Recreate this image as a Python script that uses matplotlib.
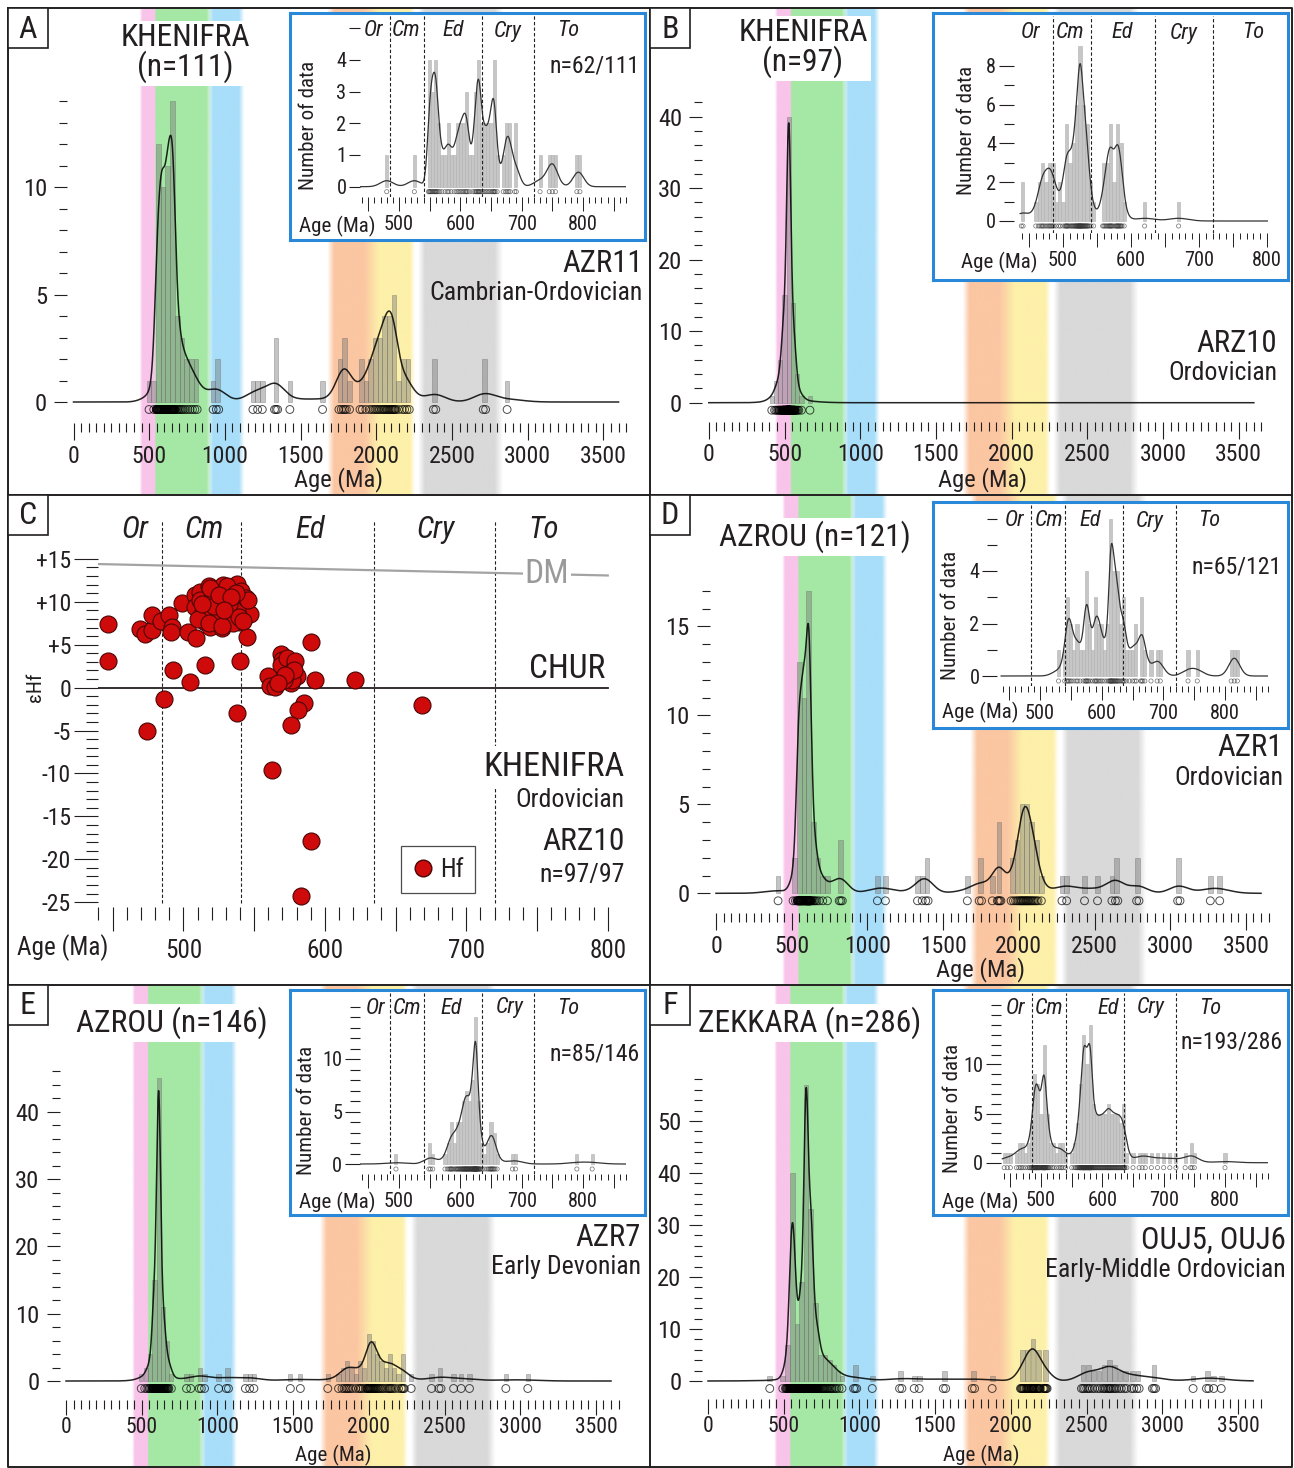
import os

import numpy as np
import matplotlib.pyplot as plt
from matplotlib import font_manager as fm
from matplotlib.colors import to_rgb
from matplotlib.font_manager import FontProperties
from matplotlib.lines import Line2D
from matplotlib.patches import Rectangle
from matplotlib.textpath import TextPath

INK = "#231f20"
BLUE = "#2a88d8"
W, H = 1294, 1468
MA_PX = 0.1514  # pixels per Ma in the main plots

# ---------------- data ----------------
# background age bands (Ma) and colours
BAND_LO = [445, 541, 905, 1700, 1960, 2300]
BAND_HI = [541, 895, 1110, 1980, 2240, 2810]
BAND_FADE_L = [18, 0, 30, 45, 80, 45]
BAND_FADE_R = [0, 30, 35, 80, 35, 55]
BAND_COLORS = ["#f9c4ea", "#a5e8a5", "#a8def9", "#fbc6a2", "#fdf0a9", "#d9d9d9"]

BOUNDS = [485, 541, 635, 720]
PERIODS = ["Or", "Cm", "Ed", "Cry", "To"]

# A - KHENIFRA AZR11
A_CENTERS = [499, 530, 561, 592, 623, 654, 685, 716, 747, 778, 809, 922, 951, 1185, 1216, 1247,
             1338, 1429, 1645, 1761, 1792, 1823, 1900, 1931, 1962, 1993, 2024, 2055, 2086, 2117,
             2148, 2179, 2210, 2385, 2714, 2864]
A_COUNTS = [1, 1, 12, 10, 11, 14, 4, 3, 2, 2, 2, 1, 2, 1, 1, 1, 3, 1, 1, 2, 3, 1, 2, 1, 2, 3, 3,
            4, 4, 5, 1, 2, 2, 2, 2, 1]
A_IN_CENTERS = [480, 525, 550, 555, 560, 565, 570, 575, 580, 585, 590, 595, 600, 605, 610, 615,
                620, 625, 630, 635, 640, 645, 650, 655, 660, 670, 675, 680, 690, 730, 745, 750,
                755, 790, 795]
A_IN_COUNTS = [1, 1, 4, 3, 4, 2, 1, 1, 2, 1, 1, 2, 2, 2, 3, 1, 1, 3, 4, 2, 2, 2, 2, 4, 1, 1, 2,
               2, 2, 1, 1, 1, 1, 1, 1]

# B - KHENIFRA ARZ10
B_CENTERS = [416, 444, 472, 500, 528, 556, 584, 612, 668]
B_COUNTS = [1, 3, 6, 15, 40, 14, 4, 1, 1]
B_IN_CENTERS = [440, 460, 465, 470, 475, 480, 485, 490, 495, 500, 505, 510, 515, 520, 525, 530,
                535, 540, 545, 560, 565, 570, 575, 580, 585, 590, 620, 670]
B_IN_COUNTS = [2, 1, 2, 3, 2, 3, 3, 1, 2, 1, 5, 3, 4, 6, 9, 6, 5, 2, 1, 3, 3, 5, 2, 5, 4, 1, 1, 1]

# C - epsilon Hf, ARZ10
C_AGE = [447, 447, 469, 473, 478, 478, 474, 484, 490, 492, 491, 486, 493, 499, 503, 505, 509,
         508, 508, 512, 514, 515, 515, 518, 517, 519, 521, 523, 525, 527, 529, 531, 533, 535,
         538, 539, 540, 543, 543, 547, 545, 540, 538,
         512, 516, 520, 524, 526, 530, 533, 536, 538, 541, 544, 510, 518, 522, 528, 532, 535,
         539, 542, 546, 527, 513, 519, 531, 537, 525, 534, 529,
         560, 561, 565, 569, 570, 569, 573, 574, 576, 577, 579, 580, 577, 571, 590, 593, 621,
         585, 581, 576, 563, 590, 583, 669, 578, 572, 567]
C_EHF = [7.4, 3.1, 6.8, 6.2, 6.7, 8.5, -5.0, 7.8, 8.5, 7.1, 6.5, -1.3, 2.1, 9.9, 6.5, 0.7, 5.8,
         10.8, 9.4, 11.2, 8.8, 7.7, 2.6, 11.9, 10.1, 7.1, 8.3, 11.2, 9.6, 6.9, 8.8, 7.8, 11.2,
         9.2, 12.1, 10.8, 7.7, 9.8, 9.0, 8.6, 5.9, 3.1, -3.0,
         10.2, 9.0, 10.5, 8.0, 11.4, 10.4, 8.3, 10.0, 9.0, 11.3, 10.5, 8.0, 7.5, 9.5, 12.0, 9.7,
         7.5, 8.2, 7.8, 10.2, 7.2, 9.8, 11.6, 11.8, 11.0, 10.8, 10.6, 9.0,
         1.3, 0.2, 0.1, 3.9, 3.2, 2.6, 3.4, 0.9, 0.5, 1.9, 3.1, 1.3, 0.9, 0.9, 5.3, 0.9, 0.9,
         -1.8, -2.6, -4.4, -9.6, -17.9, -24.3, -2.0, 2.0, 1.5, 0.5]
DM_AGE = [440, 800]
DM_EHF = [14.4, 13.07]
CHUR_AGE = [440, 800]
CHUR_EHF = [0, 0]

# D - AZROU AZR1
D_CENTERS = [410, 517, 550, 581, 612, 643, 674, 705, 736, 824, 1066, 1119, 1331, 1362, 1393,
             1660, 1746, 1825, 1870, 1957, 1989, 2021, 2053, 2085, 2117, 2149, 2285, 2316, 2434,
             2520, 2615, 2646, 2786, 3057, 3265, 3327]
D_COUNTS = [1, 2, 13, 11, 17, 4, 2, 1, 1, 3, 1, 1, 1, 1, 2, 1, 2, 1, 4, 2, 3, 5, 5, 4, 3, 1, 1,
            1, 1, 1, 1, 2, 2, 2, 1, 1]
D_IN_CENTERS = [530, 540, 545, 550, 555, 560, 565, 570, 575, 580, 585, 590, 595, 600, 605, 610,
                615, 620, 625, 630, 635, 640, 645, 650, 655, 665, 670, 680, 690, 695, 740, 755,
                810, 815, 820]
D_IN_COUNTS = [1, 1, 3, 2, 1, 2, 1, 1, 4, 2, 1, 3, 2, 2, 1, 2, 6, 4, 4, 2, 3, 1, 1, 1, 2, 3, 1,
               1, 1, 1, 1, 1, 1, 1, 1]

# E - AZROU AZR7
E_CENTERS = [497, 527, 557, 585, 612, 640, 668, 696, 796, 824, 887, 915, 1008, 1066, 1185, 1213,
             1241, 1482, 1548, 1729, 1800, 1830, 1858, 1886, 1914, 1942, 1970, 2000, 2028, 2056,
             2084, 2112, 2140, 2168, 2196, 2224, 2280, 2414, 2470, 2560, 2610, 2665, 2905, 3050]
E_COUNTS = [1, 2, 4, 15, 45, 11, 6, 1, 1, 1, 2, 1, 1, 2, 1, 1, 1, 1, 1, 1, 1, 2, 3, 2, 1, 3, 2,
            7, 6, 4, 3, 2, 4, 2, 1, 4, 1, 1, 2, 1, 1, 1, 1, 1]
E_IN_CENTERS = [495, 550, 555, 575, 580, 585, 590, 595, 600, 605, 610, 615, 620, 625, 630, 635,
                640, 645, 650, 655, 660, 685, 690, 790, 815]
E_IN_COUNTS = [1, 2, 1, 1, 2, 4, 2, 4, 4, 6, 7, 6, 8, 14, 6, 2, 1, 2, 4, 3, 1, 1, 1, 1, 1]

# F - ZEKKARA OUJ5, OUJ6
F_CENTERS = [408, 494, 525, 557, 588, 618, 648, 679, 712, 743, 772, 802, 831, 858, 885, 972,
             1085, 1273, 1362, 1395, 1562, 1753, 1877, 2077, 2112, 2147, 2182, 2227, 2477, 2512,
             2547, 2582, 2617, 2652, 2687, 2722, 2757, 2805, 2840, 2946, 3204, 3300, 3340, 3390]
F_COUNTS = [1, 1, 7, 40, 11, 19, 57, 33, 15, 5, 5, 4, 3, 2, 1, 3, 1, 2, 1, 1, 2, 2, 1, 6, 6, 8,
            6, 6, 3, 3, 2, 2, 3, 4, 3, 2, 2, 2, 2, 3, 1, 2, 1, 1]
F_IN_CENTERS = [440, 445, 450, 460, 465, 470, 475, 480, 485, 490, 495, 500, 505, 510, 515, 520,
                525, 530, 535, 540, 550, 555, 560, 565, 570, 575, 580, 585, 590, 595, 600, 605,
                610, 615, 620, 625, 630, 635, 640, 650, 660, 665, 670, 680, 690, 700, 710, 720,
                735, 745, 750, 800]
F_IN_COUNTS = [1, 1, 1, 1, 2, 2, 1, 2, 4, 9, 8, 5, 12, 5, 2, 2, 1, 2, 2, 1, 1, 2, 4, 8, 13, 10,
               14, 6, 5, 5, 5, 5, 6, 5, 5, 5, 4, 6, 1, 1, 1, 1, 1, 1, 1, 1, 1, 1, 1, 2, 1, 1]


# ---------------- font: a narrow sans if one is installed ----------------
def pick_font():
    prefs = ["liberationsansnarrow-regular.ttf", "robotocondensed-regular.ttf",
             "notosans-condensed.ttf", "opensans_condensed-regular.ttf",
             "dejavusanscondensed.ttf", "notosans-semicondensed.ttf",
             "liberationsans-regular.ttf"]
    by_file = {os.path.basename(f.fname).lower(): f for f in fm.fontManager.ttflist}
    for p in prefs:
        if p in by_file:
            return by_file[p].name, by_file[p].stretch
    return "DejaVu Sans", "normal"


FONT, STRETCH = pick_font()
plt.rcParams["font.family"] = [FONT, "DejaVu Sans"]
plt.rcParams["font.stretch"] = STRETCH
plt.rcParams["text.color"] = INK
plt.rcParams["xtick.color"] = INK
plt.rcParams["ytick.color"] = INK

# scale sizes so that text widths follow the narrow lettering of the reference
_probe = TextPath((0, 0), "KHENIFRA", size=100,
                  prop=FontProperties(family=FONT, stretch=STRETCH)).get_extents().width
SCALE = float(np.clip(405.0 / _probe, 0.72, 1.1))


def fs(size):
    return size * SCALE


# ---------------- helpers ----------------
fig = plt.figure(figsize=(W / 100, H / 100), dpi=100)


def px_axes(x0, y0, x1, y1, z=1):
    ax = fig.add_axes([x0 / W, 1 - y1 / H, (x1 - x0) / W, (y1 - y0) / H])
    ax.set_zorder(z)
    ax.patch.set_visible(False)
    return ax


def px_text(x, y, s, **kw):
    kw.setdefault("zorder", 10)
    return fig.text(x / W, 1 - y / H, s, **kw)


def hide_spines(ax):
    for sp in ax.spines.values():
        sp.set_visible(False)


def kde(grid, centers, counts, width, bw):
    """Adaptive gaussian density (count units) from binned ages."""
    c = np.asarray(centers, float)
    n = np.asarray(counts, float)

    def dens(x, s):
        z = (x[:, None] - c) / s
        return (n * width / (np.sqrt(2 * np.pi) * s) * np.exp(-0.5 * z ** 2)).sum(axis=1)

    pilot = dens(c, np.full(c.size, bw))
    g = np.exp(np.sum(n * np.log(pilot)) / n.sum())
    s = np.clip(bw * (pilot / g) ** -0.5, 0.45 * width, None)
    return dens(grid, s)


def spread(centers, counts, width):
    ages = []
    for c, n in zip(centers, counts):
        ages.extend(c - width / 2 + (np.arange(n) + 0.5) * width / n)
    return np.array(ages)


def band_rgba(ages):
    rgb = np.zeros((ages.size, 3))
    tot = np.zeros(ages.size)
    for lo, hi, fl, fr, col in zip(BAND_LO, BAND_HI, BAND_FADE_L, BAND_FADE_R, BAND_COLORS):
        xp = [lo - fl / 2 - 1e-3, lo + fl / 2, hi - fr / 2, hi + fr / 2 + 1e-3]
        w = np.interp(ages, xp, [0, 1, 1, 0], left=0, right=0)
        rgb += w[:, None] * np.array(to_rgb(col))
        tot += w
    out = np.ones((1, ages.size, 4))
    nz = tot > 0
    out[0, nz, :3] = rgb[nz] / tot[nz, None]
    out[0, :, 3] = np.clip(tot, 0, 1)
    return out


def main_panel(box, zero_x, base_y, unit, ruler_y, top_y, ymaj, ymin, ymax,
               centers, counts, width, bw, age_lab, compact=False):
    x0, y0, x1, y1 = box
    bg = px_axes(x0 + 1, y0 + 1, x1 - 1, y1 - 1, z=0)
    lo, hi = (x0 + 1 - zero_x) / MA_PX, (x1 - 1 - zero_x) / MA_PX
    bg.imshow(band_rgba(np.linspace(lo, hi, 1500)), extent=(lo, hi, 0, 1),
              aspect="auto", interpolation="bilinear")
    bg.set_xlim(lo, hi)
    bg.set_ylim(0, 1)
    bg.set_axis_off()

    ax = px_axes(zero_x - 6.5, top_y, zero_x + 3680 * MA_PX, ruler_y, z=1)
    hide_spines(ax)
    ax.set_xlim(-6.5 / MA_PX, 3680)
    ax.set_ylim(-(ruler_y - base_y) / unit, (base_y - top_y) / unit)

    ax.bar(centers, counts, width=width, color=(0.45, 0.45, 0.45, 0.42),
           edgecolor=(0.4, 0.4, 0.4, 0.5), linewidth=0.5)
    grid = np.linspace(0, 3600, 2400)
    ax.plot(grid, kde(grid, centers, counts, width, bw), color=(0, 0, 0, 0.85), lw=1.1)
    ages = spread(centers, counts, width)
    ax.scatter(ages, np.full(ages.size, -7.5 / unit), s=32, facecolors="none",
               edgecolors=(0, 0, 0, 0.7), linewidths=0.7, clip_on=False)

    # bottom panels have less room under the ruler
    tick_len, lab, pad, age_fs = (11, fs(15.5), 1.5, fs(15)) if compact else \
        (12.5, fs(17), 3, fs(17.5))
    ax.set_xticks(np.arange(0, 3501, 500))
    ax.set_xticks(np.arange(0, 3651, 50), minor=True)
    ax.tick_params(axis="x", which="major", direction="out", length=tick_len, width=0.8,
                   pad=pad, labelsize=lab)
    ax.tick_params(axis="x", which="minor", direction="out", length=6.5, width=0.8)
    ax.set_yticks(np.arange(0, ymax + 0.01, ymaj))
    ax.set_yticks(np.arange(0, ymax + 0.01, ymin), minor=True)
    ax.tick_params(axis="y", which="major", direction="out", length=9.5, width=0.8,
                   pad=5, labelsize=fs(17.5))
    ax.tick_params(axis="y", which="minor", direction="out", length=6, width=0.8)
    px_text(age_lab[0], age_lab[1], "Age (Ma)", ha="center", va="center", fontsize=age_fs)
    return ax


def inset(box, x500, k, xlo, xhi, base_y, unit, ruler_y, top_y, ymaj, ylabels, yminor,
          maj_len, centers, counts, bw, period_x, period_y, ylab_xy, age_xy, nlabel=None):
    bx = px_axes(*box, z=2)
    bx.patch.set_visible(True)
    bx.set_facecolor("white")
    bx.set_xticks([])
    bx.set_yticks([])
    for sp in bx.spines.values():
        sp.set_color(BLUE)
        sp.set_linewidth(2.2)

    left = x500 + (xlo - 500) * k
    right = x500 + (xhi - 500) * k
    ax = px_axes(left, top_y, right, ruler_y, z=3)
    hide_spines(ax)
    ax.set_xlim(xlo, xhi)
    ylo = -(ruler_y - base_y) / unit
    yhi = (base_y - top_y) / unit
    ax.set_ylim(ylo, yhi)

    width = 5
    ax.bar(centers, counts, width=width, color="#c6c6c6", edgecolor="#b0b0b0", linewidth=0.4)
    grid = np.linspace(max(xlo, 437), xhi, 1200)
    ax.plot(grid, kde(grid, centers, counts, width, bw), color="#333333", lw=0.9)
    ages = spread(centers, counts, width)
    ax.scatter(ages, np.full(ages.size, -5.0 / unit), s=9, facecolors="none",
               edgecolors=(0.2, 0.2, 0.2, 0.7), linewidths=0.5, clip_on=False)
    ax.vlines(BOUNDS, ylo, yhi, colors=INK, linestyles=(0, (3, 2)), lw=0.8)
    for name, xp in zip(PERIODS, period_x):
        ax.text(xp, (base_y - period_y) / unit, name, style="italic", ha="center",
                va="center", fontsize=fs(16), clip_on=False)

    xt = np.arange(450, xhi + 0.1, 50)
    ax.set_xticks(xt)
    ax.set_xticklabels([str(int(v)) if v % 100 == 0 else "" for v in xt])
    ax.set_xticks(np.arange(440, xhi + 0.1, 10), minor=True)
    ax.tick_params(axis="x", which="major", direction="out", length=10, width=0.7,
                   pad=3, labelsize=fs(14.5))
    ax.tick_params(axis="x", which="minor", direction="out", length=4.5, width=0.7)
    ax.set_yticks(ymaj)
    ax.set_yticklabels(ylabels)
    ax.set_yticks(yminor, minor=True)
    ax.tick_params(axis="y", which="major", direction="out", length=maj_len, width=0.8,
                   pad=2, labelsize=fs(14.5))
    ax.tick_params(axis="y", which="minor", direction="out", length=7, width=0.8)
    px_text(ylab_xy[0], ylab_xy[1], "Number of data", rotation=90, ha="center", va="center",
            fontsize=fs(15))
    px_text(age_xy[0], age_xy[1], "Age (Ma)", ha="left", va="center", fontsize=fs(15))
    if nlabel:
        px_text(nlabel[1], nlabel[2], nlabel[0], ha="right", va="center", fontsize=fs(17))
    return ax


def title(x, y, s):
    px_text(x, y, s, ha="center", va="center", fontsize=fs(22.5), linespacing=0.95,
            bbox=dict(facecolor="white", edgecolor="none", pad=2))


def right_labels(x, y, big, small):
    px_text(x, y, big, ha="right", va="center", fontsize=fs(22))
    px_text(x, y + 30, small, ha="right", va="center", fontsize=fs(18.5))


# ---------------- panel A ----------------
main_panel((8, 8, 650, 495), 73.5, 402, 21.5, 423, 95, 5, 1, 14,
           A_CENTERS, A_COUNTS, 31, 32, (338, 480))
inset((290, 13, 645, 240), 399, 0.6133, 437, 870, 186.7, 31.7, 196.7, 15,
      [0, 1, 2, 3, 4, 5], ["0", "1", "2", "3", "4", ""], [], 8,
      A_IN_CENTERS, A_IN_COUNTS, 5, [458, 512, 589, 678, 775], 31,
      (308, 125), (299, 226), ("n=62/111", 640, 66))
title(185, 53, "KHENIFRA\n(n=111)")
right_labels(643, 263, "AZR11", "Cambrian-Ordovician")

# ---------------- panel B ----------------
main_panel((650, 8, 1292, 495), 708.8, 402.7, 7.15, 421.7, 88, 10, 2, 42,
           B_CENTERS, B_COUNTS, 28, 18, (982, 480))
inset((933, 13, 1288, 280), 1063, 0.68, 428, 802, 221, 19.4, 233.3, 16,
      [0, 2, 4, 6, 8], ["0", "2", "4", "6", "8"], np.arange(0, 9), 11,
      B_IN_CENTERS, B_IN_COUNTS, 5, [452, 511, 587, 678, 779], 33,
      (967, 130), (961, 262))
title(803, 48, "KHENIFRA\n(n=97)")
right_labels(1277, 343, "ARZ10", "Ordovician")

# ---------------- panel C ----------------
cax = px_axes(97.5, 516, 629, 907, z=1)
hide_spines(cax)
cax.set_xlim(439.3, 815)
cax.set_ylim(-25.56, 20.0)
cax.vlines(BOUNDS, -25.1, 19.5, colors=INK, linestyles=(0, (3, 2)), lw=0.8)
cax.plot(DM_AGE, DM_EHF, color="#a3a3a3", lw=1.6)
cax.plot(CHUR_AGE, CHUR_EHF, color=INK, lw=1.3)
cax.text(757, 13.2, "DM", color="#9a9a9a", fontsize=fs(24), ha="center", va="center",
         bbox=dict(facecolor="white", edgecolor="none", pad=1))
cax.text(798, 0.35, "CHUR", fontsize=fs(24), ha="right", va="bottom")
cax.scatter(C_AGE, C_EHF, s=150, facecolor="#cf0a0a", edgecolor="#4a0606", linewidths=0.8,
            zorder=4)
for name, xp in zip(PERIODS, [465.7, 514.7, 589.7, 678, 754.5]):
    cax.text(xp, 18.4, name, style="italic", fontsize=fs(22), ha="center", va="center")
cax.set_yticks(np.arange(-25, 16, 5))
cax.set_yticklabels(["-25", "-20", "-15", "-10", "-5", "0", "+5", "+10", "+15"])
cax.set_yticks(np.arange(-25, 16, 1), minor=True)
cax.tick_params(axis="y", which="major", direction="out", length=17, width=0.8, pad=2,
                labelsize=fs(17))
cax.tick_params(axis="y", which="minor", direction="out", length=9, width=0.8)
xt = np.arange(450, 801, 50)
cax.set_xticks(xt)
cax.set_xticklabels([str(int(v)) if v % 100 == 0 else "" for v in xt])
cax.set_xticks(np.arange(440, 801, 10), minor=True)
cax.tick_params(axis="x", which="major", direction="out", length=17, width=0.8, pad=6,
                labelsize=fs(18))
cax.tick_params(axis="x", which="minor", direction="out", length=9, width=0.8)
hf = Line2D([], [], marker="o", ls="none", ms=12, mfc="#cf0a0a", mec="#4a0606")
leg = cax.legend([hf], ["Hf"], loc="center", bbox_to_anchor=(0.641, 0.0954), fancybox=False,
                 fontsize=fs(18), handlelength=0.8, handletextpad=0.3, borderpad=0.45)
leg.get_frame().set_edgecolor(INK)
leg.get_frame().set_linewidth(0.9)
px_text(63, 948, "Age (Ma)", ha="center", va="center", fontsize=fs(18))
px_text(35, 687, "εHf", rotation=90, ha="center", va="center", fontsize=fs(15))
px_text(624.5, 767, "KHENIFRA", ha="right", va="center", fontsize=fs(24.5),
        bbox=dict(facecolor="white", edgecolor="none", pad=4))
px_text(624.5, 800, "Ordovician", ha="right", va="center", fontsize=fs(18.5))
px_text(624.5, 842, "ARZ10", ha="right", va="center", fontsize=fs(22.5))
px_text(624.5, 875, "n=97/97", ha="right", va="center", fontsize=fs(18.5))

# ---------------- panel D ----------------
main_panel((650, 495, 1292, 985), 716, 893.3, 17.8, 913, 573, 5, 1, 17,
           D_CENTERS, D_COUNTS, 31, 30, (981, 970))
inset((933, 502, 1288, 728), 1040, 0.6167, 431, 870, 676, 26.25, 685.7, 505,
      [0, 2, 4], ["0", "2", "4"], np.arange(0, 7), 11,
      D_IN_CENTERS, D_IN_COUNTS, 5, [458, 514, 582, 678, 775], 521,
      (950, 615), (942, 712), ("n=65/121", 1282, 567))
title(815, 537, "AZROU (n=121)")
right_labels(1283, 748, "AZR1", "Ordovician")

# ---------------- panel E ----------------
main_panel((8, 985, 650, 1467), 66, 1381, 6.73, 1399.7, 1058, 10, 2, 46,
           E_CENTERS, E_COUNTS, 28, 26, (333, 1455), compact=True)
inset((290, 990, 645, 1215), 399, 0.6133, 437, 870, 1164, 10.5, 1174.3, 993,
      [0, 5, 10], ["0", "5", "10"], np.arange(0, 16), 11,
      E_IN_CENTERS, E_IN_COUNTS, 5, [462, 514, 585, 681, 775], 1008,
      (307, 1110), (299, 1202), ("n=85/146", 640, 1054))
title(172, 1023, "AZROU (n=146)")
right_labels(641, 1237, "AZR7", "Early Devonian")

# ---------------- panel F ----------------
main_panel((650, 985, 1292, 1467), 708, 1381, 5.2, 1398.5, 1069, 10, 2, 58,
           F_CENTERS, F_COUNTS, 31, 26, (981, 1455), compact=True)
inset((933, 990, 1288, 1215), 1041, 0.6133, 435, 870, 1162.7, 9.83, 1173.3, 993,
      [0, 5, 10], ["0", "5", "10"], np.arange(0, 17), 11,
      F_IN_CENTERS, F_IN_COUNTS, 5, [458, 513, 609, 679, 776], 1008,
      (952, 1108), (942, 1202), ("n=193/286", 1283, 1042))
title(810, 1023, "ZEKKARA (n=286)")
right_labels(1286, 1240, "OUJ5, OUJ6", "Early-Middle Ordovician")


# ---------------- frames and panel letters ----------------
def fig_line(xs, ys):
    fig.add_artist(Line2D([x / W for x in xs], [1 - y / H for y in ys], color=INK, lw=1.4,
                          zorder=12))


fig_line([8, 1292, 1292, 8, 8], [8, 8, 1467, 1467, 8])
fig_line([650, 650], [8, 1467])
fig_line([8, 1292], [495, 495])
fig_line([8, 1292], [985, 985])

for letter, (lx, ly) in zip("ABCDEF", [(8, 8), (650, 8), (8, 495), (650, 495), (8, 985),
                                       (650, 985)]):
    fig.add_artist(Rectangle((lx / W, 1 - (ly + 40) / H), 40 / W, 40 / H, facecolor="white",
                             edgecolor=INK, lw=1.2, transform=fig.transFigure, zorder=12))
    px_text(lx + 20, ly + 21, letter, ha="center", va="center", fontsize=23, zorder=13)

fig.savefig("out.png", dpi=100)
